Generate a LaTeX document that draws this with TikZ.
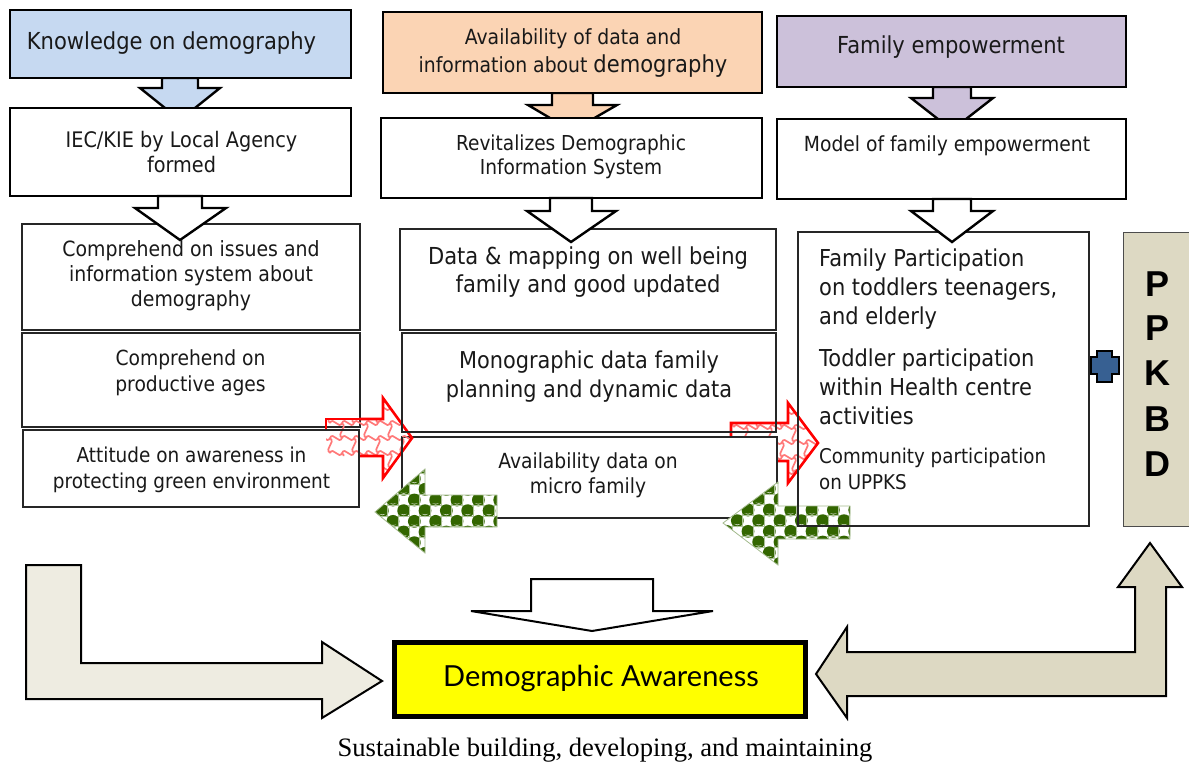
\documentclass[tikz,border=0pt]{standalone}
\usepackage{fontspec}
\setmainfont{Liberation Serif}
\newfontfamily\tah[FakeStretch=0.9]{DejaVu Sans}
\newfontfamily\gill{Lato}
\newfontfamily\arialb{Liberation Sans}
\definecolor{cblue}{HTML}{C6D9F1}
\definecolor{corange}{HTML}{FBD4B4}
\definecolor{cpurple}{HTML}{CCC1DA}
\definecolor{ctan}{HTML}{DDD9C3}
\definecolor{ccream}{HTML}{EEECE1}
\definecolor{cplus}{HTML}{376092}
\definecolor{cgreen}{HTML}{336600}
\definecolor{cpink}{HTML}{FF7878}
\definecolor{cyellow}{HTML}{FFFF00}
\tikzset{
  heavy/.style={draw=black,line width=2.4pt,line join=miter},
  thinbox/.style={draw=black!85,line width=1.2pt},
  flowtext/.style={align=center,inner sep=0pt,text=black!90},
  leftext/.style={align=left,inner sep=0pt,anchor=west,text=black!90},
  redout/.style={draw=red,line width=2.6pt,line join=miter},
  greenedge/.style={draw=cgreen!45!white,line width=0.8pt},
  pplet/.style={inner sep=0pt,font=\arialb\bfseries\fontsize{36}{36}\selectfont},
}
% \bx{name}{x1}{y1}{x2}{y2}{style}
\newcommand{\bx}[6]{%
  \pgfmathsetmacro{\bxw}{#4-#2}\pgfmathsetmacro{\bxh}{#5-#3}%
  \node[#6,inner sep=0pt,outer sep=0pt,minimum width=\bxw pt,minimum height=\bxh pt]
    (#1) at ({(#2+#4)/2},{(#3+#5)/2}) {};}
% \balls{x0}{y0}  anchor ball
\newcommand{\balls}[2]{%
  \foreach \ii in {-8,...,12}{\foreach \jj in {-6,...,6}{%
    \pgfmathtruncatemacro{\kk}{\ii+\jj+20}%
    \pgfmathsetmacro{\cx}{#1+\ii*10.67}\pgfmathsetmacro{\cy}{#2+\jj*10.67}%
    \ifodd\kk
      \draw[cgreen!40!white,line width=0.7pt] (\cx-5.3,\cy-5.3) rectangle (\cx+5.3,\cy+5.3);
    \else
      \fill[cgreen] (\cx,\cy) circle (6.4);
      \fill[cgreen!30!white] (\cx-3.4,\cy+3.2) .. controls (\cx-1,\cy+5.2) and (\cx+1,\cy+5.2) .. (\cx+3.4,\cy+3.2) .. controls (\cx+1,\cy+3.8) and (\cx-1,\cy+3.8) .. cycle;
    \fi
  }}}
% \waves{x0}{y0}{cols}{rows}
\newcommand{\waves}[4]{%
  \foreach \ii in {0,...,#3}{\foreach \jj in {0,...,#4}{%
    \pgfmathsetmacro{\cx}{#1+\ii*24+mod(\jj,2)*12}\pgfmathsetmacro{\cy}{#2+\jj*15}%
    \draw[cpink,line width=1.7pt] (\cx,\cy) .. controls (\cx+3,\cy-7) and (\cx+9,\cy+7) .. (\cx+12,\cy)
       .. controls (\cx+15,\cy-7) and (\cx+21,\cy+7) .. (\cx+24,\cy);
    \draw[cpink,line width=1.7pt] (\cx+12,\cy) .. controls (\cx+18,\cy+5) and (\cx+6,\cy+10) .. (\cx+12,\cy+15);
  }}}
\begin{document}
\begin{tikzpicture}[x=1pt,y=-1pt]
\useasboundingbox (0,0) rectangle (1189,761);

% coloured down arrows (behind the boxes)
\filldraw[fill=cblue,heavy] (162,78)--(162,88)--(140,88)--(180,120)--(220,88)--(198,88)--(198,78)--cycle;
\filldraw[fill=corange,heavy] (552,93)--(552,105)--(528,105)--(572,131)--(617,105)--(593,105)--(593,93)--cycle;
\filldraw[fill=cpurple,heavy] (933,87)--(933,98)--(911,98)--(952,130)--(993,98)--(971,98)--(971,87)--cycle;

% header and second-row boxes
\bx{know}{10}{10}{351}{78}{heavy,fill=cblue}
\bx{avail}{383}{12}{762}{93}{heavy,fill=corange}
\bx{fam}{777}{16}{1126}{87}{heavy,fill=cpurple}
\bx{iec}{10}{108}{351}{196}{heavy,fill=white}
\bx{rev}{381}{118}{762}{198}{heavy,fill=white}
\bx{model}{777}{119}{1126}{199}{heavy,fill=white}

% left column boxes, with red arrow 1 crossing them
\bx{comp}{22}{224}{360}{330}{thinbox}
\bx{prod}{22}{333}{360}{427}{thinbox}
\bx{data}{400}{229}{776}{330}{thinbox}

% red arrow 2
\begin{scope}
\clip (731,423)--(788,423)--(788,403)--(818,443)--(788,483)--(788,461)--(731,461)--cycle;
\waves{722}{412}{5}{6}
\end{scope}
\draw[redout] (731,423)--(788,423)--(788,403)--(818,443)--(788,483)--(788,461)--(731,461)--cycle;

\bx{micro}{402}{437}{777}{518}{thinbox,fill=white}
\bx{att}{23}{430}{359}{507}{thinbox,fill=white}

% red arrow 1
\begin{scope}
\clip (326,419)--(383,419)--(383,398)--(412,438)--(383,478)--(383,456)--(326,456)--cycle;
\waves{318}{408}{5}{6}
\end{scope}
\draw[redout] (359,419)--(326,419)--(326,430);
\draw[redout] (359,419)--(383,419)--(383,398)--(412,438)--(383,478)--(383,456)--(360,456);

\bx{mono}{402}{333}{776}{432}{thinbox}
\draw[thinbox] (micro.north west)--(micro.south west);
\bx{redraw}{23}{430}{359}{507}{thinbox}

% green arrows
\begin{scope}
\clip (375,512)--(425,469)--(425,495)--(497,495)--(497,527)--(425,527)--(425,553)--cycle;
\fill[white] (370,460) rectangle (500,560);
\balls{393}{500}
\end{scope}
\draw[greenedge] (375,512)--(425,469)--(425,495)--(497,495)--(497,527)--(425,527)--(425,553)--cycle;
\begin{scope}
\clip (723,523)--(778,482)--(778,506)--(850,506)--(850,539)--(778,539)--(778,565)--cycle;
\fill[white] (720,480) rectangle (855,570);
\balls{748}{510}
\end{scope}
\draw[greenedge] (723,523)--(778,482)--(778,506)--(850,506)--(850,539)--(778,539)--(778,565)--cycle;

\bx{part}{798}{232}{1089}{526}{thinbox}

% white arrows on top
\filldraw[fill=white,heavy] (158,196)--(158,208)--(135,208)--(180,240)--(226,208)--(202,208)--(202,196)--cycle;
\filldraw[fill=white,heavy] (550,198)--(550,211)--(527,211)--(571,242)--(616,211)--(592,211)--(592,198)--cycle;
\filldraw[fill=white,heavy] (933,199)--(933,211)--(911,211)--(952,242)--(993,211)--(971,211)--(971,199)--cycle;

% PPKBD
\bx{ppkbd}{1123}{232}{1192}{526}{draw=black!70,line width=1pt,fill=ctan}
\node[pplet] (p1) at (1157,284) {P};
\node[pplet] (p2) at (1157,328) {P};
\node[pplet] (p3) at (1157,373) {K};
\node[pplet] (p4) at (1157,419) {B};
\node[pplet] (p5) at (1157,464) {D};
\filldraw[fill=cplus,draw=black,line width=2pt] (1097,351)--(1112,351)--(1112,357)--(1119,357)--(1119,374)--(1112,374)--(1112,382)--(1097,382)--(1097,374)--(1091,374)--(1091,357)--(1097,357)--cycle;

% bottom arrows
\filldraw[fill=ccream,draw=black,line width=2pt] (26,565)--(81,565)--(81,663)--(322,663)--(322,642)--(382,681)--(322,718)--(322,699)--(26,699)--cycle;
\filldraw[fill=ctan,draw=black,line width=2pt] (816,674)--(847,627)--(847,652)--(1135,652)--(1135,587)--(1118,587)--(1150,543)--(1182,587)--(1166,587)--(1166,696)--(847,696)--(847,718)--cycle;
\filldraw[fill=white,draw=black,line width=2pt] (531,579)--(653,579)--(653,611)--(713,611)--(592,631)--(471,611)--(531,611)--cycle;

% result
\node[draw=black,line width=5pt,fill=cyellow,minimum width=411pt,minimum height=74pt,inner sep=0pt] (aware) at (600,679.5) {};
\node[inner sep=0pt,font=\gill\fontsize{29}{30}\selectfont] (awaret) at (601,678) {Demographic Awareness};

% texts
\node[flowtext,font=\tah\fontsize{23.4}{27}\selectfont] (t1) at (171.5,43) {Knowledge on demography};
\node[flowtext,font=\tah\fontsize{21.4}{25}\selectfont] (t2) at (181.5,152) {IEC/KIE by Local Agency\\formed};
\node[flowtext,font=\tah\fontsize{21}{25}\selectfont] (t3) at (191,276) {Comprehend on issues and\\information system about\\demography};
\node[flowtext,font=\tah\fontsize{20.8}{26}\selectfont] (t4) at (190.5,373) {Comprehend on\\productive ages};
\node[flowtext,font=\tah\fontsize{20.5}{26}\selectfont] (t5) at (191.5,470) {Attitude on awareness in\\protecting green environment};
\node[flowtext,font=\tah\fontsize{20.9}{28}\selectfont] (t6) at (573,53) {Availability of data and\\information about {\fontsize{23.4}{28}\selectfont demography}};
\node[flowtext,font=\tah\fontsize{20.6}{24}\selectfont] (t7) at (571,157) {Revitalizes Demographic\\Information System};
\node[flowtext,font=\tah\fontsize{23.4}{28.5}\selectfont] (t8) at (588,272) {Data \& mapping on well being\\family and good updated};
\node[flowtext,font=\tah\fontsize{23.2}{29}\selectfont] (t9) at (589,376.5) {Monographic data family\\planning and dynamic data};
\node[flowtext,font=\tah\fontsize{20.8}{25}\selectfont] (t10) at (588,475.5) {Availability data on\\micro family};
\node[flowtext,font=\tah\fontsize{23.4}{27}\selectfont] (t11) at (951,47) {Family empowerment};
\node[flowtext,font=\tah\fontsize{20.8}{25}\selectfont] (t12) at (947,146) {Model of family empowerment};
\node[leftext,font=\tah\fontsize{23.3}{29}\selectfont] (t13) at (819,289) {Family Participation\\on toddlers teenagers,\\and elderly};
\node[leftext,font=\tah\fontsize{23.3}{29}\selectfont] (t14) at (819,387) {Toddler participation\\within Health centre\\activities};
\node[leftext,font=\tah\fontsize{20.3}{26}\selectfont] (t15) at (819,469) {Community participation\\on UPPKS};
\node[inner sep=0pt,font=\fontsize{26.6}{28}\selectfont] (t16) at (605,750) {Sustainable building, developing, and maintaining};
\end{tikzpicture}
\end{document}
